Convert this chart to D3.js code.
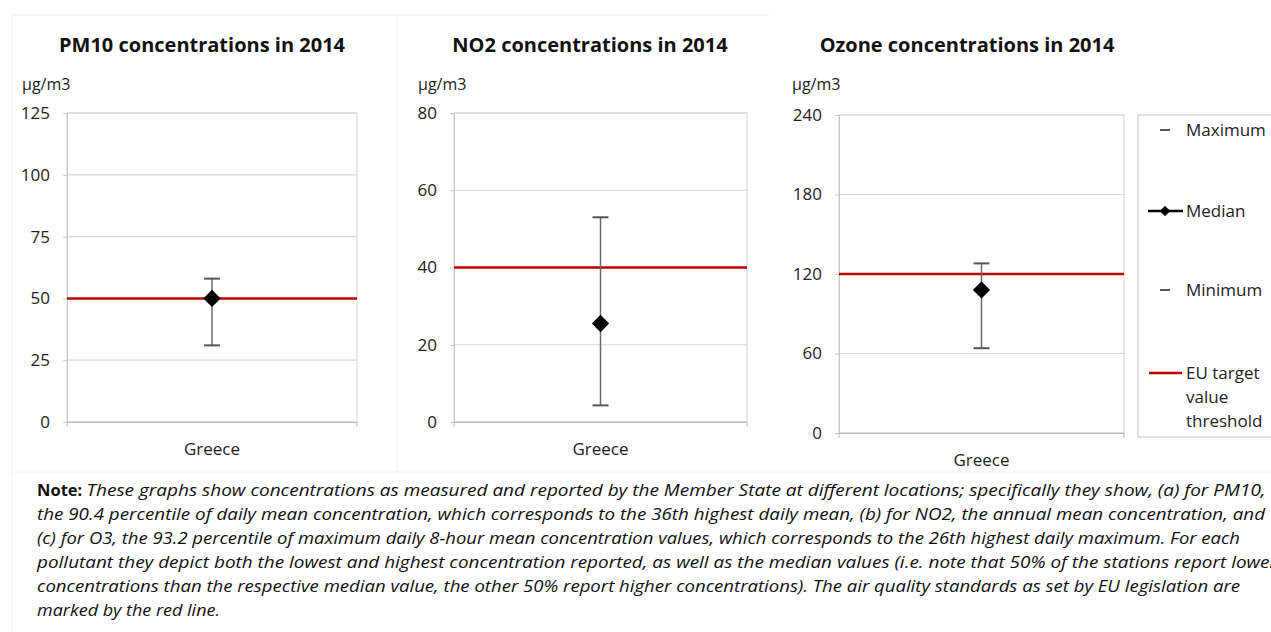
<!doctype html>
<html>
<head>
<meta charset="utf-8">
<script src="https://d3js.org/d3.v7.min.js"></script>
<style>
  body { margin: 0; background: #fff; }
  text { font-family: "Open Sans", "Noto Sans", sans-serif; }
</style>
</head>
<body>
<script>
// data
var titles = ["PM10 concentrations in 2014", "NO2 concentrations in 2014", "Ozone concentrations in 2014"];
var categories = ["Greece"];
var maxValues = [58, 53, 128];
var medianValues = [50, 25.5, 108];
var minValues = [31, 4.3, 64];
var thresholds = [50, 40, 120];
var yMaxes = [125, 80, 240];
var tickSteps = [25, 20, 60];
var legendLabels = ["Maximum", "Median", "Minimum", "EU target value threshold"];
var noteLines = [
  "These graphs show concentrations as measured and reported by the Member State at different locations; specifically they show, (a) for PM10,",
  "the 90.4 percentile of daily mean concentration, which corresponds to the 36th highest daily mean, (b) for NO2, the annual mean concentration, and",
  "(c) for O3, the 93.2 percentile of maximum daily 8-hour mean concentration values, which corresponds to the 26th highest daily maximum. For each",
  "pollutant they depict both the lowest and highest concentration reported, as well as the median values (i.e. note that 50% of the stations report lower",
  "concentrations than the respective median value, the other 50% report higher concentrations). The air quality standards as set by EU legislation are",
  "marked by the red line."
];

var W = 1271, H = 632;
var svg = d3.select("body").append("svg").attr("width", W).attr("height", H);

// faint frame lines of the original layout
svg.append("line").attr("x1", 12).attr("x2", 770).attr("y1", 15).attr("y2", 15).attr("stroke", "#f0f0f0");
svg.append("line").attr("x1", 397).attr("x2", 397).attr("y1", 15).attr("y2", 472).attr("stroke", "#f0f0f0");
svg.append("line").attr("x1", 12).attr("x2", 12).attr("y1", 15).attr("y2", 632).attr("stroke", "#f3f3f3");

// panel layout
var layout = [
  {left: 67, right: 357, top: 113, bottom: 422, titleX: 202, unitX: 22, catY: 455},
  {left: 454, right: 747, top: 113, bottom: 422, titleX: 590, unitX: 418, catY: 455},
  {left: 839, right: 1124, top: 115, bottom: 433, titleX: 967, unitX: 792, catY: 466}
];

layout.forEach(function(L, i) {
  var g = svg.append("g");
  var x = d3.scaleBand().domain(categories).range([L.left, L.right]);
  var y = d3.scaleLinear().domain([0, yMaxes[i]]).range([L.bottom, L.top]);
  var ticks = d3.range(0, yMaxes[i] + 0.001, tickSteps[i]);

  g.append("text").attr("x", L.titleX).attr("y", 52).attr("text-anchor", "middle")
    .attr("font-size", 20).attr("font-weight", "bold").attr("fill", "#111").text(titles[i]);
  g.append("text").attr("x", L.unitX).attr("y", 90).attr("font-size", 16).attr("fill", "#222").text("µg/m3");

  // gridlines
  g.selectAll(".grid").data(ticks).enter().append("line")
    .attr("x1", L.left).attr("x2", L.right)
    .attr("y1", function(d) { return y(d); }).attr("y2", function(d) { return y(d); })
    .attr("stroke", function(d) { return d === 0 ? "#bdbdbd" : "#d9d9d9"; }).attr("stroke-width", 1.2);
  g.append("rect").attr("x", L.left).attr("y", L.top).attr("width", L.right - L.left)
    .attr("height", L.bottom - L.top).attr("fill", "none").attr("stroke", "#d4d4d4");

  // y axis
  var yAxis = d3.axisLeft(y).tickValues(ticks).tickSize(4).tickPadding(13);
  var ya = g.append("g").attr("transform", "translate(" + L.left + ",0)").call(yAxis);
  ya.select(".domain").attr("stroke", "#c8c8c8");
  ya.selectAll(".tick line").attr("stroke", "#c8c8c8");
  ya.selectAll("text").attr("font-size", 17).attr("fill", "#222").attr("font-family", "Open Sans, sans-serif");

  // x axis
  var xa = g.append("g").attr("transform", "translate(0," + L.bottom + ")")
    .call(d3.axisBottom(x).tickSize(0).tickPadding(0));
  xa.select(".domain").attr("stroke", "#bdbdbd");
  xa.selectAll("text").remove();
  [L.left, L.right].forEach(function(px) {
    g.append("line").attr("x1", px).attr("x2", px).attr("y1", L.bottom).attr("y2", L.bottom + 5).attr("stroke", "#bdbdbd");
  });
  g.selectAll(".cat").data(categories).enter().append("text")
    .attr("x", function(d) { return x(d) + x.bandwidth() / 2; }).attr("y", L.catY)
    .attr("text-anchor", "middle").attr("font-size", 17).attr("fill", "#222").text(function(d) { return d; });

  // threshold
  g.append("line").attr("x1", L.left).attr("x2", L.right)
    .attr("y1", y(thresholds[i])).attr("y2", y(thresholds[i]))
    .attr("stroke", "#c00000").attr("stroke-width", 2.5);

  // error bar
  categories.forEach(function(c) {
    var cx = x(c) + x.bandwidth() / 2;
    g.append("line").attr("x1", cx).attr("x2", cx).attr("y1", y(maxValues[i])).attr("y2", y(minValues[i]))
      .attr("stroke", "#6b6b6b").attr("stroke-width", 1.5);
    [maxValues[i], minValues[i]].forEach(function(v) {
      g.append("line").attr("x1", cx - 8).attr("x2", cx + 8).attr("y1", y(v)).attr("y2", y(v))
        .attr("stroke", "#555").attr("stroke-width", 2);
    });
    g.append("path").attr("d", d3.symbol().type(d3.symbolDiamond2).size(190)())
      .attr("transform", "translate(" + cx + "," + y(medianValues[i]) + ")").attr("fill", "#000");
  });
});

// legend
var lg = svg.append("g");
lg.append("rect").attr("x", 1138).attr("y", 115).attr("width", 140).attr("height", 322)
  .attr("fill", "#fff").attr("stroke", "#c8c8c8");
var legY = [130, 211, 290, 373];
lg.append("line").attr("x1", 1160).attr("x2", 1170).attr("y1", legY[0]).attr("y2", legY[0]).attr("stroke", "#555").attr("stroke-width", 2);
lg.append("line").attr("x1", 1148).attr("x2", 1183).attr("y1", legY[1]).attr("y2", legY[1]).attr("stroke", "#000").attr("stroke-width", 2.5);
lg.append("path").attr("d", d3.symbol().type(d3.symbolDiamond2).size(70)())
  .attr("transform", "translate(1165," + legY[1] + ")").attr("fill", "#000");
lg.append("line").attr("x1", 1160).attr("x2", 1170).attr("y1", legY[2]).attr("y2", legY[2]).attr("stroke", "#555").attr("stroke-width", 2);
lg.append("line").attr("x1", 1149).attr("x2", 1182).attr("y1", legY[3]).attr("y2", legY[3]).attr("stroke", "#c00000").attr("stroke-width", 2.5);
[0, 1, 2].forEach(function(k) {
  lg.append("text").attr("x", 1186).attr("y", legY[k] + 6).attr("font-size", 17).attr("fill", "#222").text(legendLabels[k]);
});
var eu = lg.append("text").attr("x", 1186).attr("y", legY[3] + 6).attr("font-size", 17).attr("fill", "#222");
["EU target", "value", "threshold"].forEach(function(t, k) {
  eu.append("tspan").attr("x", 1186).attr("dy", k === 0 ? 0 : 24).text(t);
});

// note
svg.append("line").attr("x1", 12).attr("x2", 1271).attr("y1", 472).attr("y2", 472).attr("stroke", "#f0f0f0");
var noteWidths = [1225, 1228, 1203, 1240, 1203, 183];
noteLines.forEach(function(line, k) {
  var t = svg.append("text").attr("x", 37).attr("y", 496 + k * 24).attr("font-size", 16.5).attr("fill", "#111");
  if (k === 0) {
    t.append("tspan").attr("font-weight", "bold").attr("font-style", "normal").text("Note: ");
    t.append("tspan").attr("font-style", "italic").attr("textLength", noteWidths[k] - 46)
      .attr("lengthAdjust", "spacingAndGlyphs").text(line);
  } else {
    t.attr("font-style", "italic").attr("textLength", noteWidths[k]).attr("lengthAdjust", "spacingAndGlyphs").text(line);
  }
});
</script>
</body>
</html>
